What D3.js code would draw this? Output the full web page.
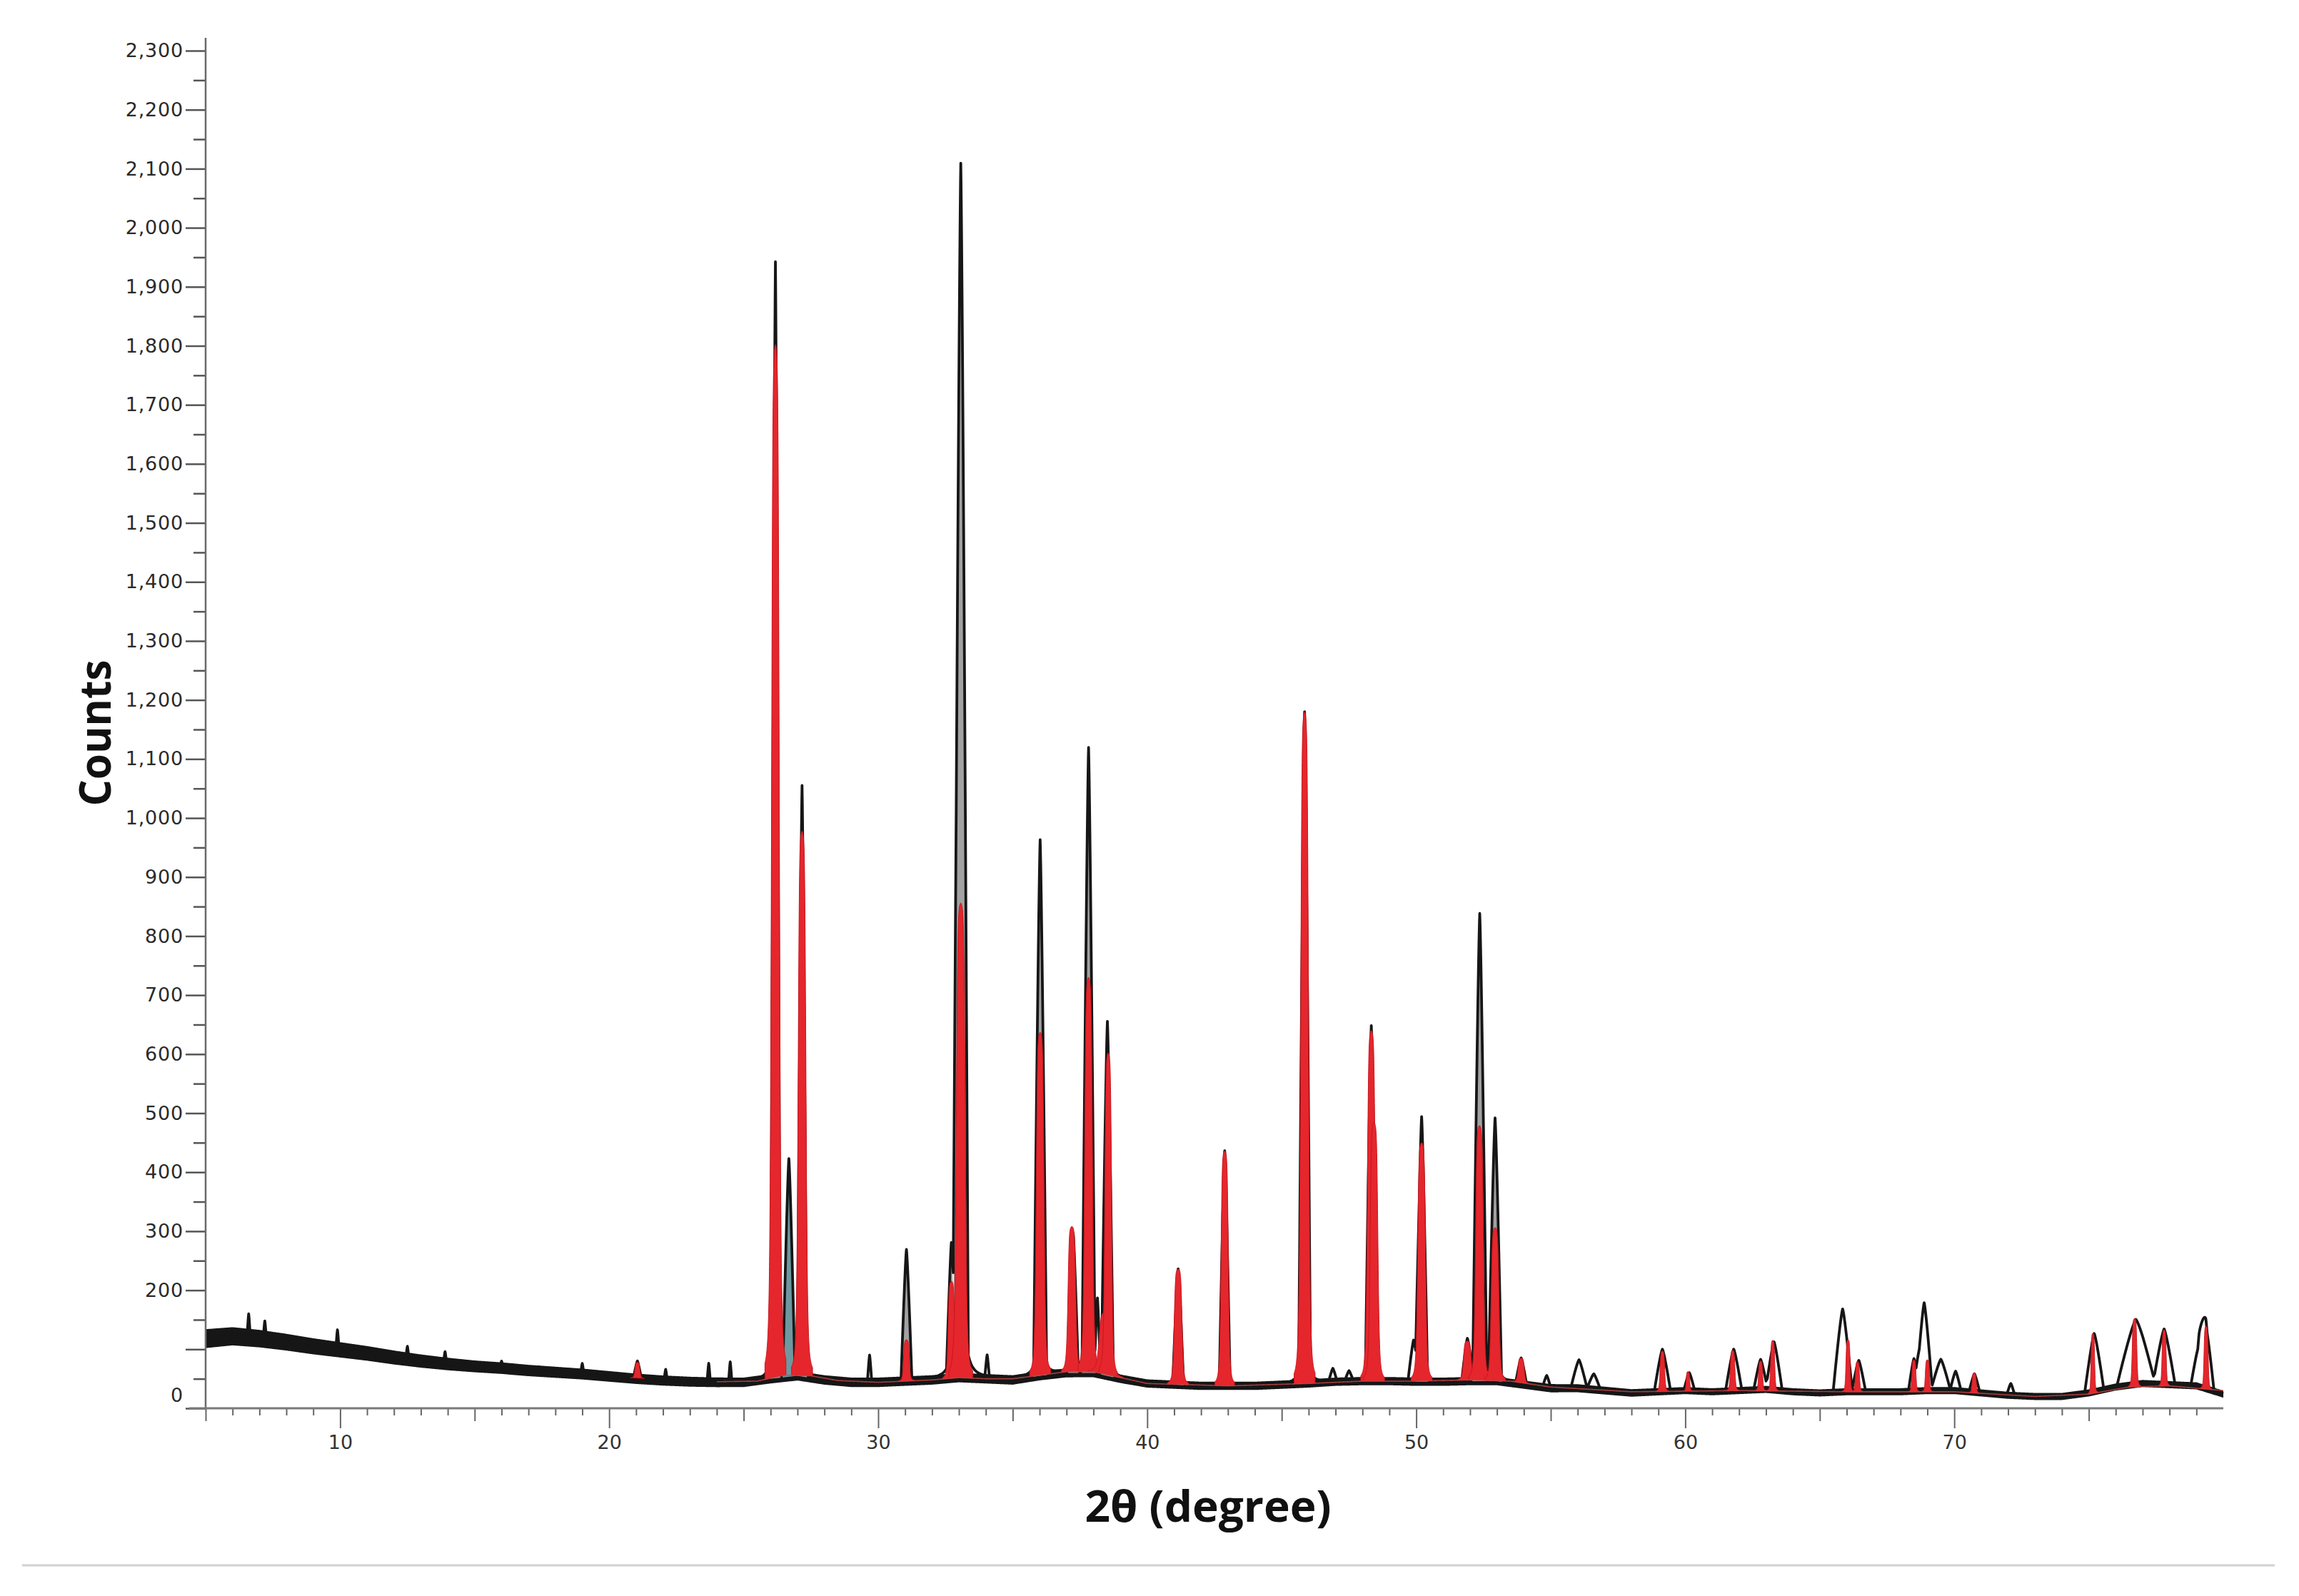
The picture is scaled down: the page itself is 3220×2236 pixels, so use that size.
<!DOCTYPE html>
<html><head><meta charset="utf-8">
<script src="https://cdn.jsdelivr.net/npm/d3@7"></script>
<style>body{margin:0;background:#fff}svg{display:block}</style>
</head><body>
<svg id="c" width="3220" height="2236"></svg>
<script>
// ---------------- data ----------------
// observed background (counts) at whole degrees 5..80
const bkgAngles = d3.range(5, 81, 1);
const bkgCounts = [118,122,118,112,105,99,93,86,80,75,
                   71,68,64,61,58,54,50,47,45,44,
                   44,50,55,48,44,44,46,48,52,50,
                   48,55,60,60,50,42,40,38,38,38,
                   40,42,45,46,46,45,45,46,46,40,
                   34,34,30,26,28,30,28,30,32,28,
                   26,28,28,28,30,30,26,22,20,20,
                   26,36,42,40,38,24];
// half range of the noisy observed trace (counts)
const noiseAngles = [5,10,15,20,25,30,35,40,45,50,55,60,65,70,75,80];
const noiseAmp    = [16,13,10,9,8,8,8,7,7,7,7,6,6,6,6,6];
// calculated background (thin red line)
const calcAngles = [5,10,15,20,24,25.5,26.5,27.5,28.5,30,32,33,34,35,36,37,38,39,40,43,46,48,50,52,53.5,55,58,62,66,70,73,75,76.5,78,80];
const calcCounts = [110,95,70,53,45,46,56,55,47,44,48,52,50,50,56,62,62,52,42,38,42,46,46,48,46,36,28,30,28,28,20,24,36,38,30];
// observed peaks: position (2θ), top (counts), width (deg)
const obsPos   = [6.6,7.2,9.9,12.5,13.9,16.0,17.4,19.0,21.05,22.1,23.7,24.5,26.18,26.68,27.17,29.68,31.05,32.72,33.07,34.05,36.02,37.25,37.82,38.15,38.52,41.15,42.88,45.85,46.9,47.5,48.33,49.9,50.2,51.9,52.36,52.93,53.9,54.85,56.05,56.6,59.15,60.15,61.8,62.8,63.3,65.85,66.45,68.5,68.88,69.5,70.05,70.75,72.1,75.2,76.75,77.8,79.1,79.35];
const obsTop   = [160,148,133,105,96,80,70,76,80,66,76,78,1940,415,1052,90,268,254,2108,86,962,290,1117,170,652,236,436,1180,66,62,648,110,493,112,836,488,84,55,82,58,100,60,100,82,112,168,80,82,178,82,62,58,42,126,150,133,104,137];
const obsWidth = [0.06,0.06,0.06,0.06,0.06,0.06,0.06,0.06,0.15,0.06,0.06,0.06,0.17,0.22,0.17,0.08,0.2,0.18,0.28,0.08,0.24,0.18,0.24,0.1,0.22,0.2,0.2,0.22,0.15,0.15,0.22,0.2,0.22,0.2,0.26,0.24,0.2,0.15,0.3,0.25,0.3,0.2,0.3,0.25,0.3,0.35,0.25,0.2,0.3,0.35,0.2,0.2,0.15,0.35,0.7,0.4,0.3,0.3];
// second-phase peak (teal)
const tealPos = [26.68];
// reference phase reflections (red)
const redPos  = [21.05,26.18,27.17,31.05,32.72,33.07,36.02,37.2,37.82,38.45,38.55,41.15,42.88,45.85,48.33,48.43,50.2,51.9,52.35,52.93,53.9,59.15,60.1,61.76,62.8,63.25,66.05,66.4,68.5,69.0,70.74,75.15,76.7,77.8,79.36];
const redTop  = [78,1802,978,116,215,856,637,308,730,162,602,236,436,1180,640,484,450,114,479,306,85,97,62,98,80,115,116,79,82,82,60,127,152,133,139];
const redFwhm = [0.2,0.3,0.3,0.22,0.25,0.34,0.3,0.3,0.3,0.5,0.26,0.3,0.28,0.3,0.3,0.3,0.3,0.3,0.3,0.3,0.25,0.18,0.14,0.18,0.16,0.16,0.16,0.16,0.16,0.16,0.16,0.14,0.18,0.16,0.16];
const yTicks = d3.range(0, 2301, 100);
const xLabelTicks = [10,20,30,40,50,60,70];

// ---------------- scales ----------------
const svg = d3.select("#c");
svg.append("rect").attr("width",3220).attr("height",2236).attr("fill","#fff");
const x = d3.scaleLinear().domain([5,80]).range([288,3114]);
const y = d3.scaleLinear().domain([0,2300]).range([1973,71]);

function interp(xs, ys, v){
  let i = d3.bisectRight(xs, v) - 1;
  i = Math.max(0, Math.min(xs.length-2, i));
  const t = (v - xs[i])/(xs[i+1]-xs[i]);
  return ys[i] + (ys[i+1]-ys[i])*t;
}
const bkg = v => interp(bkgAngles, bkgCounts, v);
const calc = v => interp(calcAngles, calcCounts, v);
const amp = v => interp(noiseAngles, noiseAmp, v);
function obsShape(dx, c){
  const u = Math.abs(dx)/c;
  const core = u < 1 ? 1 - Math.pow(u, 1.24) : 0;
  return 0.93*core + 0.07/(1 + Math.pow(dx/(0.6*c), 2));
}
function redShape(dx, a){
  const u = Math.abs(dx)/a;
  return 0.9/(1+Math.pow(u,6)) + 0.1/(1+u*u);
}
const obs = obsPos.map((p,i)=>({p, H: obsTop[i]-bkg(p), c: obsWidth[i]}));

// ---------------- noise band ----------------
const grid = d3.range(5, 80.0001, 0.02);
svg.append("path")
  .datum(grid)
  .attr("fill","#161616")
  .attr("d", d3.area().x(d=>x(d)).y0(d=>y(bkg(d)-amp(d))).y1(d=>y(bkg(d)+amp(d))));

// ---------------- observed peak fills ----------------
const gFill = svg.append("g");
obs.forEach(o=>{
  const teal = tealPos.includes(o.p);
  if (o.H < 180 && !teal) return;
  const pts = d3.range(-o.c*1.05, o.c*1.05+1e-9, o.c/200).map(dx=>o.p+dx);
  gFill.append("path").datum(pts)
    .attr("fill", teal ? "#6f98a0" : "#a2a2a2")
    .attr("d", d3.area().x(d=>x(d)).y0(d=>y(bkg(d))).y1(d=>y(bkg(d)+o.H*obsShape(d-o.p,o.c))));
});

// ---------------- observed trace ----------------
const fine = d3.range(5, 80.0001, 0.01);
const obsVal = fine.map(v=>{
  let s = bkg(v);
  for (const o of obs){ const dx = v-o.p; if (Math.abs(dx) < 3) s += o.H*obsShape(dx,o.c); }
  return s;
});
svg.append("path")
  .datum(fine)
  .attr("fill","none").attr("stroke","#161616").attr("stroke-width",3.8).attr("stroke-linejoin","round")
  .attr("d", d3.line().x(d=>x(d)).y((d,i)=>y(obsVal[i])));

// ---------------- red reflections ----------------
const gRed = svg.append("g");
redPos.forEach((p,i)=>{
  const a = redFwhm[i]/2;
  const H = redTop[i]-calc(p);
  const pts = d3.range(-a*2.6, a*2.6+1e-9, a/60).map(dx=>p+dx);
  gRed.append("path").datum(pts)
    .attr("fill","#e5262d").attr("stroke","#c8161d").attr("stroke-width",1)
    .attr("d", d3.area().x(d=>x(d)).y0(d=>y(calc(d))).y1(d=>y(calc(d)+H*redShape(d-p,a))));
});

// calculated background line
svg.append("path")
  .datum(d3.range(24, 80.0001, 0.05))
  .attr("fill","none").attr("stroke","#c84848").attr("stroke-width",1.6).attr("opacity",0.8)
  .attr("d", d3.line().x(d=>x(d)).y(d=>y(calc(d))).curve(d3.curveMonotoneX));

// ---------------- axes ----------------
const lab = "DejaVu Sans, sans-serif";
const gy = svg.append("g").attr("transform","translate(288,0)");
gy.call(d3.axisLeft(y).tickValues(yTicks).tickSize(28).tickPadding(3)
  .tickFormat(d => d===100 ? "" : d3.format(",")(d)));
gy.select(".domain").remove();
gy.selectAll(".tick line").attr("stroke","#555").attr("stroke-width",2.5);
gy.selectAll(".tick text").attr("font-family",lab).attr("font-size",27).attr("fill","#2a2a2a").attr("letter-spacing",0.8);
gy.selectAll(".tick text").filter(d=>d===0).attr("transform","translate(0,-18)");
const gy2 = svg.append("g").attr("transform","translate(288,0)");
gy2.call(d3.axisLeft(y).tickValues(d3.range(50,2300,100)).tickSize(17).tickFormat(""));
gy2.select(".domain").remove();
gy2.selectAll(".tick line").attr("stroke","#555").attr("stroke-width",2.5);
svg.append("line").attr("x1",288).attr("x2",288).attr("y1",53).attr("y2",1973)
  .attr("stroke","#6a6a6a").attr("stroke-width",2.5);

function xAxis(vals, size, fmt){
  const g = svg.append("g").attr("transform","translate(0,1973)");
  g.call(d3.axisBottom(x).tickValues(vals).tickSize(size).tickPadding(10).tickFormat(fmt));
  g.select(".domain").remove();
  g.selectAll(".tick line").attr("stroke","#666").attr("stroke-width",2);
  g.selectAll(".tick text").attr("font-family",lab).attr("font-size",27).attr("fill","#333");
  return g;
}
xAxis(xLabelTicks, 28, d=>d);
xAxis(d3.range(5,80,5).filter(d=>d%10!==0), 18, "");
xAxis(d3.range(5,80,1).filter(d=>d%5!==0), 10, "");
svg.append("line").attr("x1",265).attr("x2",3114).attr("y1",1973).attr("y2",1973)
  .attr("stroke","#7a7a7a").attr("stroke-width",3);

// ---------------- titles ----------------
svg.append("text").attr("transform","translate(133,1027) rotate(-90)")
  .attr("text-anchor","middle").attr("dy","0.36em")
  .attr("font-family","Open Sans, sans-serif").attr("font-weight",700).attr("font-size",60)
  .attr("textLength",205).attr("lengthAdjust","spacingAndGlyphs")
  .attr("fill","#111").text("Counts");
svg.append("text").attr("x",1692).attr("y",2132)
  .attr("text-anchor","middle")
  .attr("font-family","Open Sans, sans-serif").attr("font-weight",700).attr("font-size",60)
  .attr("textLength",345).attr("lengthAdjust","spacingAndGlyphs")
  .attr("fill","#111").text("2θ (degree)");

// separator line
svg.append("line").attr("x1",31).attr("x2",3186).attr("y1",2193).attr("y2",2193)
  .attr("stroke","#d2d2d2").attr("stroke-width",3);
</script>
</body></html>
